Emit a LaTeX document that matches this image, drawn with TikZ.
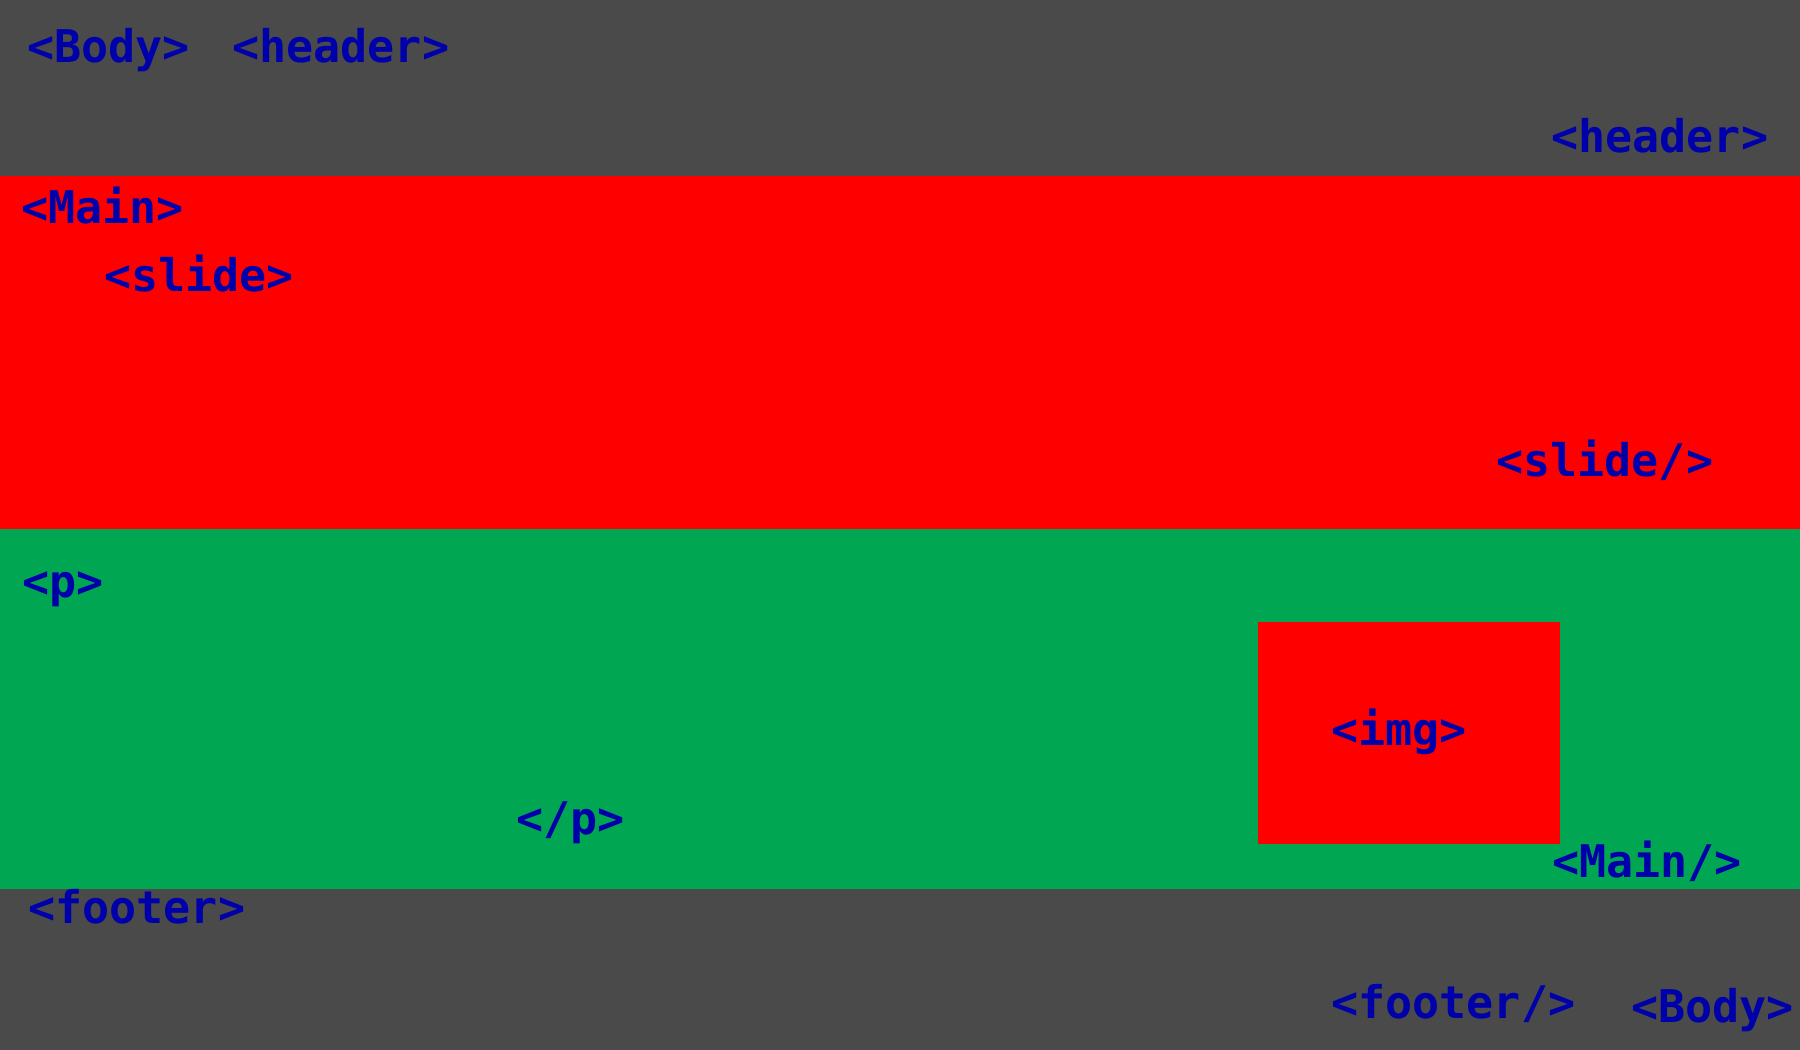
\documentclass[tikz,border=0pt]{standalone}
\usepackage{fontspec}
\usepackage{xcolor}
\usepackage{tikz}
\setmonofont{DejaVu Sans Mono}
\definecolor{bodygray}{HTML}{4A4A4A}
\definecolor{mainred}{HTML}{FF0000}
\definecolor{pgreen}{HTML}{00A651}
\definecolor{tagblue}{HTML}{0000AA}
\tikzset{
 tag/.style={anchor=base west, inner sep=0pt, text=tagblue, font=\fontsize{22.5pt}{27pt}\selectfont\ttfamily\bfseries},
 block/.style={fill=#1, draw=none}
}

\begin{document}
\begin{tikzpicture}[x=0.5pt, y=-0.5pt]
\useasboundingbox (0,0) rectangle (1800,1050);
\fill[block=bodygray] (0,0) rectangle (1800,1050);
\fill[block=mainred] (0,176) rectangle (1800,529);
\fill[block=pgreen] (0,529) rectangle (1800,889);
\fill[block=mainred] (1258,622) rectangle (1560,844);
\node[tag] (bodyopen) at (27,62) {<Body>};
\node[tag] (headeropen) at (232,62) {<header>};
\node[tag] (headerclose) at (1551,152) {<header>};
\node[tag] (mainopen) at (21,223) {<Main>};
\node[tag] (slideopen) at (104,291) {<slide>};
\node[tag] (slideclose) at (1496,476) {<slide/>};
\node[tag] (popen) at (22,597) {<p>};
\node[tag] (img) at (1331,745) {<img>};
\node[tag] (pclose) at (516,834) {</p>};
\node[tag] (mainclose) at (1552,877) {<Main/>};
\node[tag] (footeropen) at (28,923) {<footer>};
\node[tag] (footerclose) at (1331,1018) {<footer/>};
\node[tag] (bodyclose) at (1631,1022) {<Body>};
\end{tikzpicture}
\end{document}
